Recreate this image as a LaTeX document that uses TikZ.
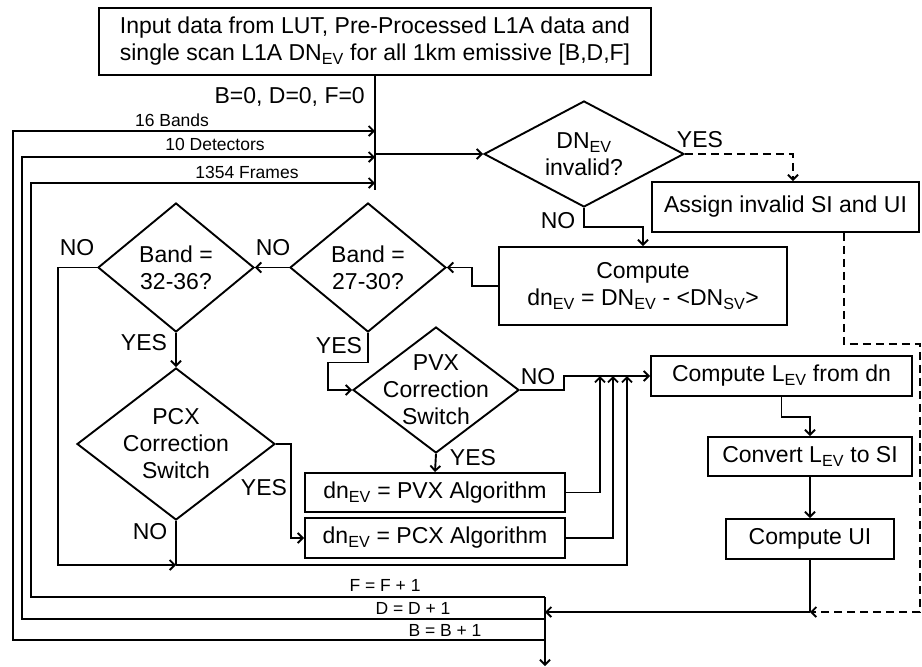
\documentclass[tikz,border=0pt]{standalone}
\usepackage{fontspec}
\setmainfont{Liberation Sans}
\usetikzlibrary{shapes.geometric,arrows.meta}
\newcommand\sbs[1]{\textsubscript{#1}}
\begin{document}
\begin{tikzpicture}[x=1pt,y=-1pt,
  lw/.style={line width=1.9pt},
  box/.style={draw,lw,rectangle,inner sep=0pt,align=center,font=\fontsize{23}{27}\selectfont},
  dia/.style={draw,lw,diamond,inner sep=0pt},
  dtxt/.style={align=center,inner sep=0pt,font=\fontsize{23}{27}\selectfont},
  lbl/.style={inner sep=0pt,font=\fontsize{23}{27}\selectfont},
  sml/.style={inner sep=0pt,font=\fontsize{17.5}{20}\selectfont},
  arr/.style={lw,-{Straight Barb[length=5pt,width=10pt]}},
  dsh/.style={dash pattern=on 8pt off 5pt},
]
\useasboundingbox (0,0) rectangle (922,667);

% boxes
\node[box,minimum width=552pt,minimum height=67pt] (in) at (375,41.5)
  {Input data from LUT, Pre-Processed L1A data and\\single scan L1A DN\sbs{EV} for all 1km emissive [B,D,F]};
\node[box,minimum width=267pt,minimum height=50pt] (asg) at (785.5,207) {Assign invalid SI and UI};
\node[box,minimum width=288pt,minimum height=78pt] (cmp) at (643,286)
  {Compute\\dn\sbs{EV} = DN\sbs{EV} - <DN\sbs{SV}>};
\node[box,minimum width=260pt,minimum height=39pt] (pvxalg) at (435,492.5) {dn\sbs{EV} = PVX Algorithm};
\node[box,minimum width=260pt,minimum height=40pt] (pcxalg) at (435,538) {dn\sbs{EV} = PCX Algorithm};
\node[box,minimum width=261pt,minimum height=40pt] (cL) at (781.5,376) {Compute L\sbs{EV} from dn};
\node[box,minimum width=204pt,minimum height=39pt] (cv) at (810,456.5) {Convert L\sbs{EV} to SI};
\node[box,minimum width=168pt,minimum height=40pt] (ui) at (810,539) {Compute UI};

% diamonds
\node[dia,minimum width=200pt,minimum height=106pt] (dn) at (584,154) {};
\node[dtxt] at (dn.center) {DN\sbs{EV}\\invalid?};
\node[dia,minimum width=156pt,minimum height=129pt] (b27) at (368,267.5) {};
\node[dtxt] at (b27.center) {Band =\\27-30?};
\node[dia,minimum width=156pt,minimum height=129pt] (b32) at (176,267.5) {};
\node[dtxt] at (b32.center) {Band =\\32-36?};
\node[dia,minimum width=198pt,minimum height=152pt] (pcx) at (176,444) {};
\node[dtxt] at (pcx.center) {PCX\\Correction\\Switch};
\node[dia,minimum width=166pt,minimum height=126pt] (pvx) at (436,390) {};
\node[dtxt] at (pvx.center) {PVX\\Correction\\Switch};

% coordinates
\coordinate (vbot) at (375,190);
\coordinate (j0) at (375,154);
\coordinate (jB) at (375,131);
\coordinate (jD) at (375,157);
\coordinate (jF) at (375,183);
\coordinate (m1) at (176,565);
\coordinate (g1) at (600,376);
\coordinate (g2) at (613,376);
\coordinate (g3) at (627,376);
\coordinate (uiturn) at (810,612);
\coordinate (bj) at (545,612);
\coordinate (bF) at (545,597);
\coordinate (bD) at (545,619);
\coordinate (bB) at (545,640);
\coordinate (bend) at (545,666);

% labels
\node[lbl,anchor=east] at (365,97) {B=0, D=0, F=0};
\node[sml] at (172,120.5) {16 Bands};
\node[sml] at (215,144) {10 Detectors};
\node[sml] at (247,172) {1354 Frames};
\node[lbl] at (700,140) {YES};
\node[lbl] at (558,221) {NO};
\node[lbl] at (273,248) {NO};
\node[lbl] at (77,248) {NO};
\node[lbl] at (144,343) {YES};
\node[lbl] at (339,346) {YES};
\node[lbl] at (264,488) {YES};
\node[lbl] at (150,532) {NO};
\node[lbl] at (538,377) {NO};
\node[lbl] at (473,458) {YES};
\node[sml] at (385,585) {F = F + 1};
\node[sml] at (413,608) {D = D + 1};
\node[sml] at (445,630) {B = B + 1};

% connectors
\draw[lw] (in.south) -- (vbot);
\draw[arr] (j0) -- (dn.west);
\draw[arr,dsh] (dn.east) -| ([xshift=7.5pt]asg.north);
\draw[arr] (dn.south) -- ++(0,19) -| (cmp.north);
\draw[arr] (cmp.west) -- ++(-26,0) |- (b27.east);
\draw[arr] (b27.west) -- (b32.east);
\draw[arr] (b32.west) -- ++(-39,0) |- (m1);
\draw[lw] (pcx.south) -- (m1);
\draw[arr] (m1) -| (g3);
\draw[arr] (b32.south) -- (pcx.north);
\draw[arr] (pcx.east) -- ++(15,0) |- (pcxalg.west);
\draw[arr] (b27.south) -- ++(0,29.5) -- ++(-40,0) |- (pvx.west);
\draw[arr] (pvx.south) -- (pvxalg.north);
\draw[arr] (pvx.east) -- ++(44,0) |- (cL.west);
\draw[arr] (pvxalg.east) -| (g1);
\draw[arr] (pcxalg.east) -| (g2);
\draw[arr] (cL.south) -- ++(0,20) -| (cv.north);
\draw[arr] (cv.south) -- (ui.north);
\draw[lw] (ui.south) -- (uiturn);
\draw[arr] (uiturn) -- (bj);
\draw[arr,dsh] ([xshift=58.5pt]asg.south) |- (920,344) |- (uiturn);
\draw[arr] (bF) -- (bend);
\draw[arr] (bF) -| (31,183) -- (jF);
\draw[arr] (bD) -| (22,157) -- (jD);
\draw[arr] (bB) -| (13,131) -- (jB);
\end{tikzpicture}
\end{document}
